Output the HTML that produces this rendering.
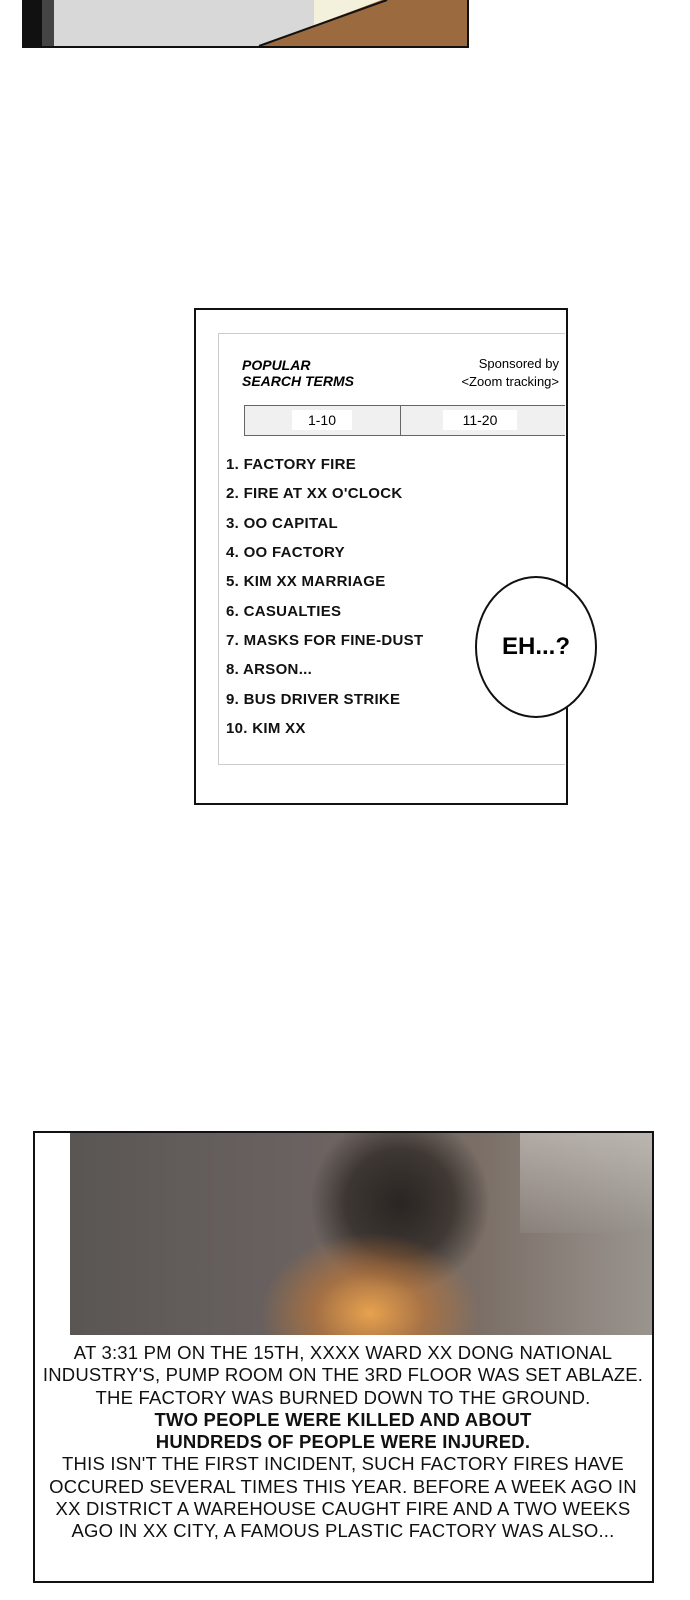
<!DOCTYPE html>
<html><head><style>
body{margin:0;width:690px;height:1600px;background:#fff;position:relative;overflow:hidden;font-family:"Liberation Sans",sans-serif}
.a{position:absolute}
.li{position:absolute;left:226px;font-size:15px;font-weight:bold;letter-spacing:.3px;color:#111}
.t{position:absolute;left:33px;width:620px;text-align:center;font-size:18.5px;line-height:22.3px;color:#111;top:1342px;letter-spacing:.2px}
</style></head><body>
<!-- top panel -->
<div class="a" style="left:22px;top:-2px;width:443px;height:48px;border:2px solid #111;border-top:none;background:#d8d8d8;overflow:hidden">
 <div class="a" style="left:0;top:0;width:18px;height:48px;background:#111"></div>
 <div class="a" style="left:18px;top:0;width:12px;height:48px;background:#444"></div>
 <div class="a" style="left:290px;top:0;width:90px;height:30px;background:#f3f0dc"></div>
 <svg class="a" style="left:0;top:0" width="443" height="48"><polygon points="235,48 363,0 443,0 443,48" fill="#9b6a3e"/><polyline points="235,48 363,2" stroke="#111" stroke-width="2" fill="none"/></svg>
</div>
<!-- search panel -->
<div class="a" style="left:194px;top:308px;width:370px;height:493px;border:2.5px solid #111"></div>
<div class="a" style="left:218px;top:333px;width:346px;height:430px;border:1.5px solid #ccc;border-right:none"></div>
<div class="a" style="left:242px;top:357px;font-size:14px;font-style:italic;font-weight:bold;line-height:16px">POPULAR<br>SEARCH TERMS</div>
<div class="a" style="left:420px;top:355px;width:139px;text-align:right;font-size:13px;line-height:18px">Sponsored by<br>&lt;Zoom tracking&gt;</div>
<div class="a" style="left:244px;top:405px;width:320px;height:29px;border:1px solid #666;border-right:none;background:#f0f0f0"></div>
<div class="a" style="left:400px;top:405px;width:1px;height:31px;background:#666"></div>
<div class="a" style="left:292px;top:410px;width:60px;height:20px;background:#fff;text-align:center;font-size:14px;line-height:20px">1-10</div>
<div class="a" style="left:443px;top:410px;width:74px;height:20px;background:#fff;text-align:center;font-size:14px;line-height:20px">11-20</div>
<div class="li" style="top:456px">1. FACTORY FIRE</div>
<div class="li" style="top:485px">2. FIRE AT XX O'CLOCK</div>
<div class="li" style="top:515px">3. OO CAPITAL</div>
<div class="li" style="top:544px">4. OO FACTORY</div>
<div class="li" style="top:573px">5. KIM XX MARRIAGE</div>
<div class="li" style="top:603px">6. CASUALTIES</div>
<div class="li" style="top:632px">7. MASKS FOR FINE-DUST</div>
<div class="li" style="top:661px">8. ARSON...</div>
<div class="li" style="top:691px">9. BUS DRIVER STRIKE</div>
<div class="li" style="top:720px">10. KIM XX</div>
<div class="a" style="left:475px;top:576px;width:118px;height:138px;border:2px solid #111;border-radius:50%;background:#fff;text-align:center;line-height:138px;font-size:24px;font-weight:bold">EH...?</div>
<!-- bottom panel -->
<div class="a" style="left:33px;top:1131px;width:617px;height:448px;border:2.5px solid #111"></div>
<div class="a" style="left:70px;top:1133px;width:582px;height:202px;background:
radial-gradient(ellipse 110px 80px at 300px 180px,#e8a24e 0%,rgba(200,120,50,.6) 50%,transparent 100%),
radial-gradient(ellipse 90px 90px at 330px 70px,#2a2522 0%,rgba(40,35,32,.7) 60%,transparent 100%),
linear-gradient(90deg,#5a5654 0%,#6a6260 40%,#7a6e66 70%,#9a948e 100%)"></div>
<div class="a" style="left:520px;top:1133px;width:132px;height:100px;background:linear-gradient(180deg,rgba(210,205,200,.6),rgba(150,145,140,.3))"></div>
<div class="t">AT 3:31 PM ON THE 15TH, XXXX WARD XX DONG NATIONAL<br>INDUSTRY'S, PUMP ROOM ON THE 3RD FLOOR WAS SET ABLAZE.<br>THE FACTORY WAS BURNED DOWN TO THE GROUND.<br><b>TWO PEOPLE WERE KILLED AND ABOUT<br>HUNDREDS OF PEOPLE WERE INJURED.</b><br>THIS ISN'T THE FIRST INCIDENT, SUCH FACTORY FIRES HAVE<br>OCCURED SEVERAL TIMES THIS YEAR. BEFORE A WEEK AGO IN<br>XX DISTRICT A WAREHOUSE CAUGHT FIRE AND A TWO WEEKS<br>AGO IN XX CITY, A FAMOUS PLASTIC FACTORY WAS ALSO...</div>
</body></html>
